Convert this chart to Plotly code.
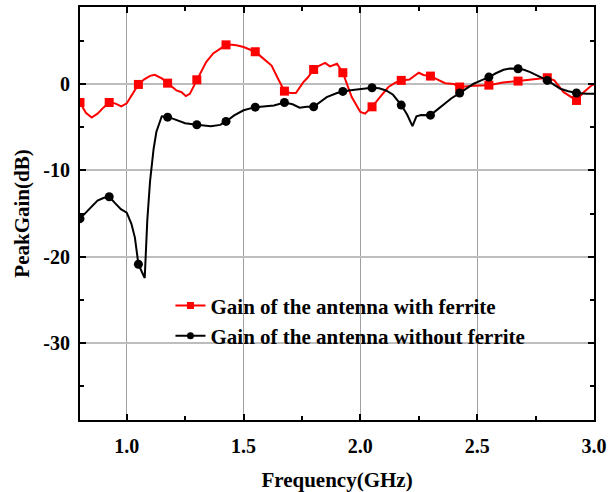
import plotly.graph_objects as go

# Peak gain (dB) versus frequency (GHz), antenna with ferrite
freq_with = [0.8, 0.825, 0.85, 0.875, 0.9, 0.925, 0.95, 0.977, 1.0, 1.025, 1.05, 1.075,
             1.1, 1.12, 1.15, 1.175, 1.213, 1.235, 1.253, 1.27, 1.3, 1.34, 1.37, 1.4,
             1.425, 1.45, 1.47, 1.5, 1.525, 1.55, 1.585, 1.62, 1.645, 1.675, 1.7, 1.724,
             1.756, 1.775, 1.8, 1.825, 1.849, 1.87, 1.9, 1.925, 1.963, 2.0, 2.02, 2.05,
             2.084, 2.12, 2.15, 2.175, 2.21, 2.25, 2.27, 2.3, 2.363, 2.4, 2.425, 2.484,
             2.55, 2.61, 2.675, 2.727, 2.8, 2.83, 2.87, 2.925, 2.956, 2.99, 3.0]
gain_with = [-2.1, -3.3, -3.85, -3.4, -2.7, -2.1, -2.2, -2.55, -2.2, -1.1, 0.0, 0.6,
             1.0, 1.12, 0.7, 0.15, -0.7, -0.9, -1.36, -1.1, 0.54, 2.6, 3.6, 4.2,
             4.6, 4.6, 4.55, 4.35, 4.1, 3.8, 3.0, 2.2, 0.8, -0.78, -1.0, -1.0,
             0.27, 0.8, 1.74, 2.2, 2.5, 2.1, 2.4, 1.36, -1.47, -3.2, -3.4, -2.6,
             -1.47, -0.3, 0.2, 0.47, 0.58, 1.36, 1.1, 0.97, 0.15, 0.05, -0.3, -0.15,
             -0.08, 0.23, 0.39, 0.58, 0.78, 0.47, -0.9, -1.86, -0.9, -0.1, 0.0]

# Peak gain (dB) versus frequency (GHz), antenna without ferrite
freq_without = [0.8, 0.825, 0.85, 0.875, 0.9, 0.925, 0.95, 0.975, 1.0, 1.02, 1.035, 1.05,
                1.065, 1.077, 1.088, 1.1, 1.115, 1.127, 1.15, 1.175, 1.2, 1.25, 1.3, 1.33,
                1.36, 1.4, 1.425, 1.46, 1.5, 1.55, 1.6, 1.63, 1.675, 1.71, 1.74, 1.77,
                1.8, 1.83, 1.856, 1.9, 1.925, 1.95, 1.985, 2.02, 2.05, 2.08, 2.11, 2.14,
                2.175, 2.2, 2.223, 2.24, 2.26, 2.3, 2.33, 2.36, 2.39, 2.425, 2.455, 2.485,
                2.52, 2.55, 2.58, 2.613, 2.64, 2.675, 2.7, 2.727, 2.76, 2.8, 2.83, 2.856,
                2.89, 2.925, 2.97, 3.0]
gain_without = [-15.6, -14.9, -14.2, -13.5, -13.2, -13.05, -13.8, -14.5, -14.9, -16.2, -17.8, -20.9,
                -21.8, -22.5, -15.8, -11.2, -7.5, -5.5, -3.7, -3.8, -4.0, -4.5, -4.69, -4.8,
                -4.85, -4.7, -4.3, -3.6, -3.0, -2.64, -2.55, -2.45, -2.1, -2.3, -2.7, -2.6,
                -2.6, -2.0, -1.47, -1.0, -0.81, -0.7, -0.58, -0.5, -0.39, -0.45, -0.7, -1.2,
                -2.4, -3.5, -4.84, -3.7, -3.55, -3.57, -2.9, -2.25, -1.6, -1.0, -0.5, 0.08,
                0.5, 0.85, 1.3, 1.7, 1.85, 1.82, 1.7, 1.43, 1.0, 0.47, -0.05, -0.5,
                -0.8, -1.0, -1.08, -1.08]

# Frequencies carrying a symbol on both curves
marker_freq = [0.8, 0.925, 1.05, 1.175, 1.3, 1.425, 1.55, 1.675, 1.8, 1.925,
               2.05, 2.175, 2.3, 2.425, 2.55, 2.675, 2.8, 2.925]

label_with = "Gain of the antenna with ferrite"
label_without = "Gain of the antenna without ferrite"

x_ticks = [1.0, 1.5, 2.0, 2.5, 3.0]
x_tick_text = ["1.0", "1.5", "2.0", "2.5", "3.0"]
y_ticks = [-30, -20, -10, 0]
y_tick_text = ["-30", "-20", "-10", "0"]


def on_curve(xs, ys, picks):
    lookup = dict(zip(xs, ys))
    return [lookup[p] for p in picks]


def bold(s):
    return f"<b>{s}</b>"


RED = "#ff0000"
BLACK = "#000000"
SERIF = "Liberation Serif"
TICK_FONT = dict(family=SERIF, size=20, color="black")
TITLE_FONT = dict(family=SERIF, size=21, color="black")
LEGEND_FONT = dict(family=SERIF, size=21, color="black")

series = [
    (freq_with, gain_with, RED, "square", label_with),
    (freq_without, gain_without, BLACK, "circle", label_without),
]

fig = go.Figure()
for xs, ys, color, symbol, name in series:
    fig.add_trace(go.Scatter(x=xs, y=ys, mode="lines", line=dict(color=color, width=2),
                             showlegend=False, hoverinfo="skip"))
    fig.add_trace(go.Scatter(x=marker_freq, y=on_curve(xs, ys, marker_freq), mode="markers",
                             marker=dict(color=color, symbol=symbol, size=9),
                             showlegend=False))
    # legend entry showing both the line and the symbol
    fig.add_trace(go.Scatter(x=[None], y=[None], mode="lines+markers", name=bold(name),
                             line=dict(color=color, width=2),
                             marker=dict(color=color, symbol=symbol, size=7)))

axis_common = dict(
    showline=True, linecolor="black", linewidth=2, mirror="allticks",
    ticks="inside", ticklen=6, tickwidth=2, tickcolor="black",
    tickfont=TICK_FONT, zeroline=False, automargin=False,
)

fig.update_xaxes(
    range=[0.8, 3.0], tickvals=x_ticks, ticktext=[bold(t) for t in x_tick_text],
    ticklabelstandoff=7,
    showgrid=True, gridcolor="#a0a0a0", gridwidth=1,
    minor=dict(tickvals=[1.25, 1.75, 2.25, 2.75], ticks="inside", ticklen=4,
               tickwidth=2, tickcolor="black", showgrid=False),
    title=dict(text=bold("Frequency(GHz)"), font=TITLE_FONT, standoff=16),
    **axis_common,
)
fig.update_yaxes(
    range=[-39, 9], tickvals=y_ticks, ticktext=[bold(t) for t in y_tick_text],
    ticklabelstandoff=4,
    showgrid=True, gridcolor="#bdbdbd", gridwidth=2,
    minor=dict(tickvals=[-35, -25, -15, -5, 5], ticks="inside", ticklen=4,
               tickwidth=2, tickcolor="black", showgrid=False),
    title=dict(text=bold("PeakGain(dB)"), font=TITLE_FONT, standoff=8),
    **axis_common,
)

fig.update_layout(
    width=616, height=492,
    margin=dict(l=80, r=22, t=7, b=72),
    paper_bgcolor="white", plot_bgcolor="white",
    font=dict(family=SERIF, color="black"),
    legend=dict(x=0.176, y=0.326, xanchor="left", yanchor="top",
                bgcolor="rgba(0,0,0,0)", font=LEGEND_FONT, tracegroupgap=0),
)

fig.write_html("out.html")
